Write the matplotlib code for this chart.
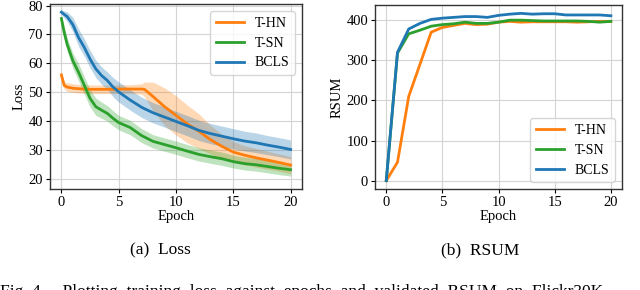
import matplotlib
matplotlib.use('Agg')
import matplotlib.pyplot as plt
import numpy as np

plt.rcParams.update({
    'font.family': ['Liberation Serif', 'DejaVu Serif'],
    'font.size': 10,
    'axes.grid': True,
    'grid.color': '#d4d4d4',
    'grid.linewidth': 0.8,
    'axes.edgecolor': '#333333',
    'axes.linewidth': 1.0,
    'xtick.labelsize': 10.5,
    'ytick.labelsize': 10.5,
    'axes.labelsize': 10.5,
    'legend.fontsize': 10,
})

# loss curves (mean and spread)
loss_epoch = [0, 0.25, 0.5, 1, 1.5, 2, 2.5, 3, 3.5, 4, 4.5, 5, 6, 7, 7.25,
              8, 9, 10, 11, 12, 13, 14, 15, 16, 17, 18, 19, 20]
loss_thn = [56.0, 52.3, 51.8, 51.4, 51.2, 51.1, 51.0, 51.0, 51.0, 51.0, 51.0,
            51.1, 51.1, 51.1, 51.0, 48.5, 45.0, 42.0, 39.0, 36.5, 33.6, 31.3,
            29.3, 28.2, 27.3, 26.5, 25.7, 24.8]
loss_tsn = [75.5, 70.6, 66.6, 60.9, 56.9, 52.4, 47.9, 45.0, 43.8, 42.7, 41.0,
            39.5, 37.8, 35.0, 34.5, 33.0, 31.9, 30.8, 29.6, 28.5, 27.7, 27.0,
            26.0, 25.3, 24.9, 24.3, 23.7, 23.2]
loss_bcls = [77.7, 76.9, 76.2, 73.4, 68.9, 65.5, 61.5, 58.1, 55.8, 54.1, 51.8,
             50.1, 47.3, 44.8, 44.3, 42.9, 41.4, 39.9, 38.4, 36.8, 35.7, 34.8,
             33.9, 33.1, 32.5, 31.7, 31.0, 30.2]
std_thn = [1.0, 1.2, 1.5, 1.5, 1.5, 1.5, 1.5, 1.5, 1.5, 1.5, 1.5, 1.5, 1.5,
           1.8, 2.5, 5.0, 6.5, 6.8, 6.5, 6.0, 5.0, 4.2, 3.6, 3.3, 3.2, 3.1,
           3.0, 3.0]
std_tsn = [1.0, 2.0, 2.3, 2.6, 3.0, 3.0, 3.0, 3.0, 2.8, 2.7, 2.6, 2.5, 2.5,
           2.4, 2.4, 2.3, 2.3, 2.3, 2.3, 2.3, 2.3, 2.3, 2.2, 2.2, 2.2, 2.2,
           2.2, 2.2]
std_bcls = [0.8, 1.2, 1.6, 2.5, 3.0, 3.0, 3.0, 3.0, 3.0, 3.0, 3.3, 3.5, 3.5,
            3.5, 3.5, 3.5, 3.5, 3.5, 3.5, 3.5, 3.5, 3.5, 3.5, 3.4, 3.4, 3.3,
            3.3, 3.3]

# RSUM per epoch, right panel
rsum_epoch = list(range(21))
rsum_thn = [0, 46, 210, 290, 370, 382, 387, 392, 389, 390, 395, 397, 395,
            396, 396, 396, 396, 395, 396, 397, 397]
rsum_tsn = [0, 318, 366, 375, 385, 389, 391, 395, 392, 392, 395, 400, 400,
            399, 398, 398, 398, 398, 397, 395, 397]
rsum_bcls = [0, 320, 378, 392, 402, 405, 407, 409, 409, 407, 412, 415, 417,
             415, 416, 416, 413, 413, 413, 413, 411]

labels = ['T-HN', 'T-SN', 'BCLS']
colors = ['#ff7f0e', '#2ca02c', '#1f77b4']

fig = plt.figure(figsize=(6.4, 2.9), dpi=100)
ax1 = fig.add_axes([0.078, 0.348, 0.394, 0.638])
ax2 = fig.add_axes([0.586, 0.348, 0.386, 0.635])

x = np.array(loss_epoch)
for mean, std, lab, c in zip([loss_thn, loss_tsn, loss_bcls],
                             [std_thn, std_tsn, std_bcls], labels, colors):
    m = np.array(mean)
    s = np.array(std)
    ax1.fill_between(x, m - s, m + s, color=c, alpha=0.3, lw=0)
    ax1.plot(x, m, color=c, lw=2, label=lab)
ax1.set_xlim(-1, 21)
ax1.set_ylim(16.5, 80.5)
ax1.set_xticks([0, 5, 10, 15, 20])
ax1.set_yticks([20, 30, 40, 50, 60, 70, 80])
ax1.set_xlabel('Epoch', labelpad=1)
ax1.set_ylabel('Loss', labelpad=2)
ax1.legend(loc='upper right', handlelength=2.0)

for vals, lab, c in zip([rsum_thn, rsum_tsn, rsum_bcls], labels, colors):
    ax2.plot(rsum_epoch, vals, color=c, lw=2, label=lab)
ax2.set_xlim(-1, 21)
ax2.set_ylim(-21, 438)
ax2.set_xticks([0, 5, 10, 15, 20])
ax2.set_yticks([0, 100, 200, 300, 400])
ax2.set_xlabel('Epoch', labelpad=1)
ax2.set_ylabel('RSUM', labelpad=2)
ax2.legend(loc='lower right', handlelength=2.0)

for ax in (ax1, ax2):
    ax.tick_params(length=3, pad=2)
    ax.set_axisbelow(True)

fig.text(0.25, 0.138, '(a)  Loss', ha='center', va='center', fontsize=12.5)
fig.text(0.75, 0.138, '(b)  RSUM', ha='center', va='center', fontsize=12.5)
# figure caption, clipped by the bottom edge as in the source
fig.text(0.0, -0.02, 'Fig. 4.    Plotting  training  loss  against  epochs  '
         'and  validated  RSUM  on  Flickr30K', ha='left', va='baseline',
         fontsize=12.5)

fig.savefig('out.png', dpi=100)
